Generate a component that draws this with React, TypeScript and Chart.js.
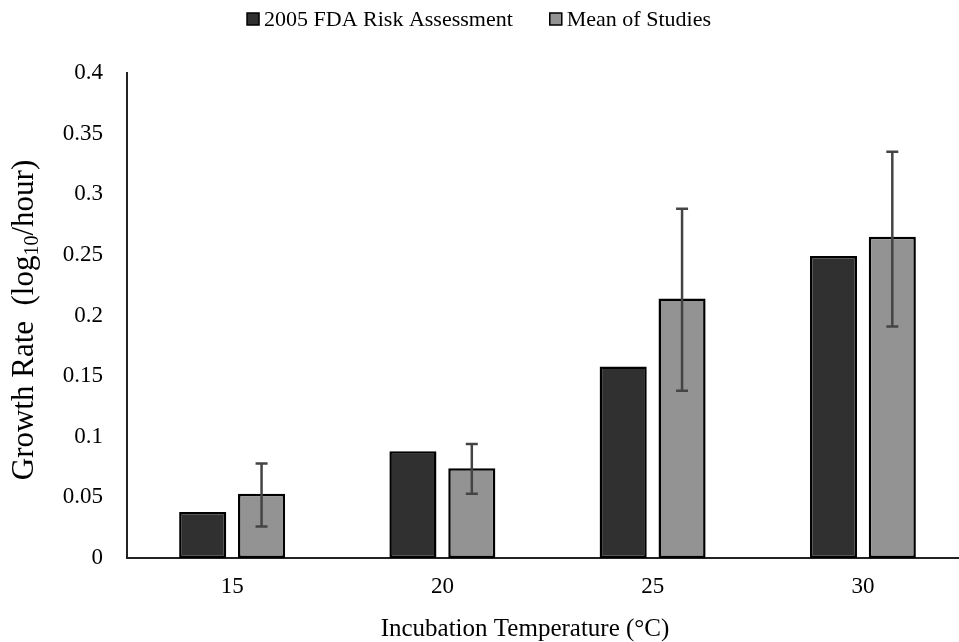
import React, { useEffect, useRef } from "react";
import { Chart, registerables } from "chart.js";

Chart.register(...registerables);

const categories = ["15", "20", "25", "30"];
const fdaValues = [0.038, 0.088, 0.158, 0.249];
const studyMeans = [0.053, 0.074, 0.214, 0.265];
const errLow = [0.026, 0.053, 0.138, 0.191];
const errHigh = [0.078, 0.094, 0.288, 0.335];
const seriesNames = ["2005 FDA Risk Assessment", "Mean of Studies"];
const yTitleParts = [
  { text: "Growth Rate  (log", sub: false },
  { text: "10", sub: true },
  { text: "/hour)", sub: false },
];
const xTitle = "Incubation Temperature (\u00B0C)";

const FONT = "'Liberation Serif', 'Times New Roman', serif";
const DARK = "#303030";
const GRAY = "#939393";

const errorBarPlugin = {
  id: "errorBars",
  afterDatasetsDraw(chart: any) {
    const meta = chart.getDatasetMeta(1);
    const y = chart.scales.y;
    const ctx = chart.ctx;
    ctx.save();
    ctx.strokeStyle = "#444";
    ctx.lineWidth = 2.5;
    meta.data.forEach((el: any, i: number) => {
      const x = el.x;
      const yh = y.getPixelForValue(errHigh[i]);
      const yl = y.getPixelForValue(errLow[i]);
      ctx.beginPath();
      ctx.moveTo(x, yh);
      ctx.lineTo(x, yl);
      ctx.moveTo(x - 6, yh);
      ctx.lineTo(x + 6, yh);
      ctx.moveTo(x - 6, yl);
      ctx.lineTo(x + 6, yl);
      ctx.stroke();
    });
    ctx.restore();
  },
};

const textPlugin = {
  id: "customText",
  afterDraw(chart: any) {
    const ctx = chart.ctx;
    ctx.save();
    ctx.fillStyle = "#000";
    // Legend
    ctx.font = `22px ${FONT}`;
    ctx.textBaseline = "alphabetic";
    ctx.textAlign = "left";
    const colors = [DARK, GRAY];
    const box = 12;
    const gap = 5;
    const itemGap = 37;
    const widths = seriesNames.map((n) => box + gap + ctx.measureText(n).width);
    const total = widths[0] + widths[1] + itemGap;
    let x = 479 - total / 2;
    seriesNames.forEach((n, i) => {
      ctx.fillStyle = colors[i];
      ctx.fillRect(x, 13, box, box);
      ctx.strokeStyle = "#000";
      ctx.lineWidth = 1.5;
      ctx.strokeRect(x, 13, box, box);
      ctx.fillStyle = "#000";
      ctx.fillText(n, x + box + gap, 26);
      x += widths[i] + itemGap;
    });
    // X title
    ctx.font = `25px ${FONT}`;
    ctx.textAlign = "center";
    ctx.fillText(xTitle, 525, 636);
    // Y title with subscript
    ctx.translate(33, 320);
    ctx.rotate(-Math.PI / 2);
    const bigFont = `31px ${FONT}`;
    const smallFont = `20px ${FONT}`;
    let tw = 0;
    const ws = yTitleParts.map((p) => {
      ctx.font = p.sub ? smallFont : bigFont;
      const w = ctx.measureText(p.text).width;
      tw += w;
      return w;
    });
    let cx = -tw / 2;
    ctx.textAlign = "left";
    yTitleParts.forEach((p, i) => {
      ctx.font = p.sub ? smallFont : bigFont;
      ctx.fillText(p.text, cx, p.sub ? 5 : 0);
      cx += ws[i];
    });
    ctx.restore();
  },
};

export default function App() {
  const ref = useRef<HTMLCanvasElement>(null);
  useEffect(() => {
    if (!ref.current) return;
    const chart = new Chart(ref.current, {
      type: "bar",
      data: {
        labels: categories,
        datasets: [
          {
            label: seriesNames[0],
            data: fdaValues,
            backgroundColor: DARK,
            borderColor: "#000",
            borderWidth: 2.5,
            borderSkipped: false,
            categoryPercentage: 0.56,
            barPercentage: 0.8,
          },
          {
            label: seriesNames[1],
            data: studyMeans,
            backgroundColor: GRAY,
            borderColor: "#000",
            borderWidth: 2.5,
            borderSkipped: false,
            categoryPercentage: 0.56,
            barPercentage: 0.8,
          },
        ],
      },
      options: {
        responsive: false,
        animation: false,
        layout: { padding: { top: 73, right: 32, bottom: 0, left: 0 } },
        plugins: {
          legend: { display: false },
          tooltip: { enabled: false },
        },
        scales: {
          x: {
            grid: { display: false, drawTicks: false },
            border: { display: true, color: "#222", width: 2 },
            ticks: { font: { family: FONT, size: 23 }, color: "#000", padding: 15 },
            afterFit: (s: any) => {
              s.height = 84;
            },
          },
          y: {
            min: 0,
            max: 0.4,
            grid: { display: false, drawTicks: false },
            border: { display: true, color: "#222", width: 2 },
            ticks: {
              stepSize: 0.05,
              font: { family: FONT, size: 23 },
              color: "#000",
              padding: 24,
              callback: (v: any) => String(Number(Number(v).toFixed(2))),
            },
            afterFit: (s: any) => {
              s.width = 127;
            },
          },
        },
      },
      plugins: [errorBarPlugin, textPlugin],
    });
    return () => chart.destroy();
  }, []);
  return (
    <div
      style={{
        position: "fixed",
        left: 0,
        top: 0,
        width: 959,
        height: 642,
        overflow: "hidden",
        background: "#fff",
      }}
    >
      <canvas ref={ref} width={1000} height={642} style={{ display: "block" }} />
    </div>
  );
}
